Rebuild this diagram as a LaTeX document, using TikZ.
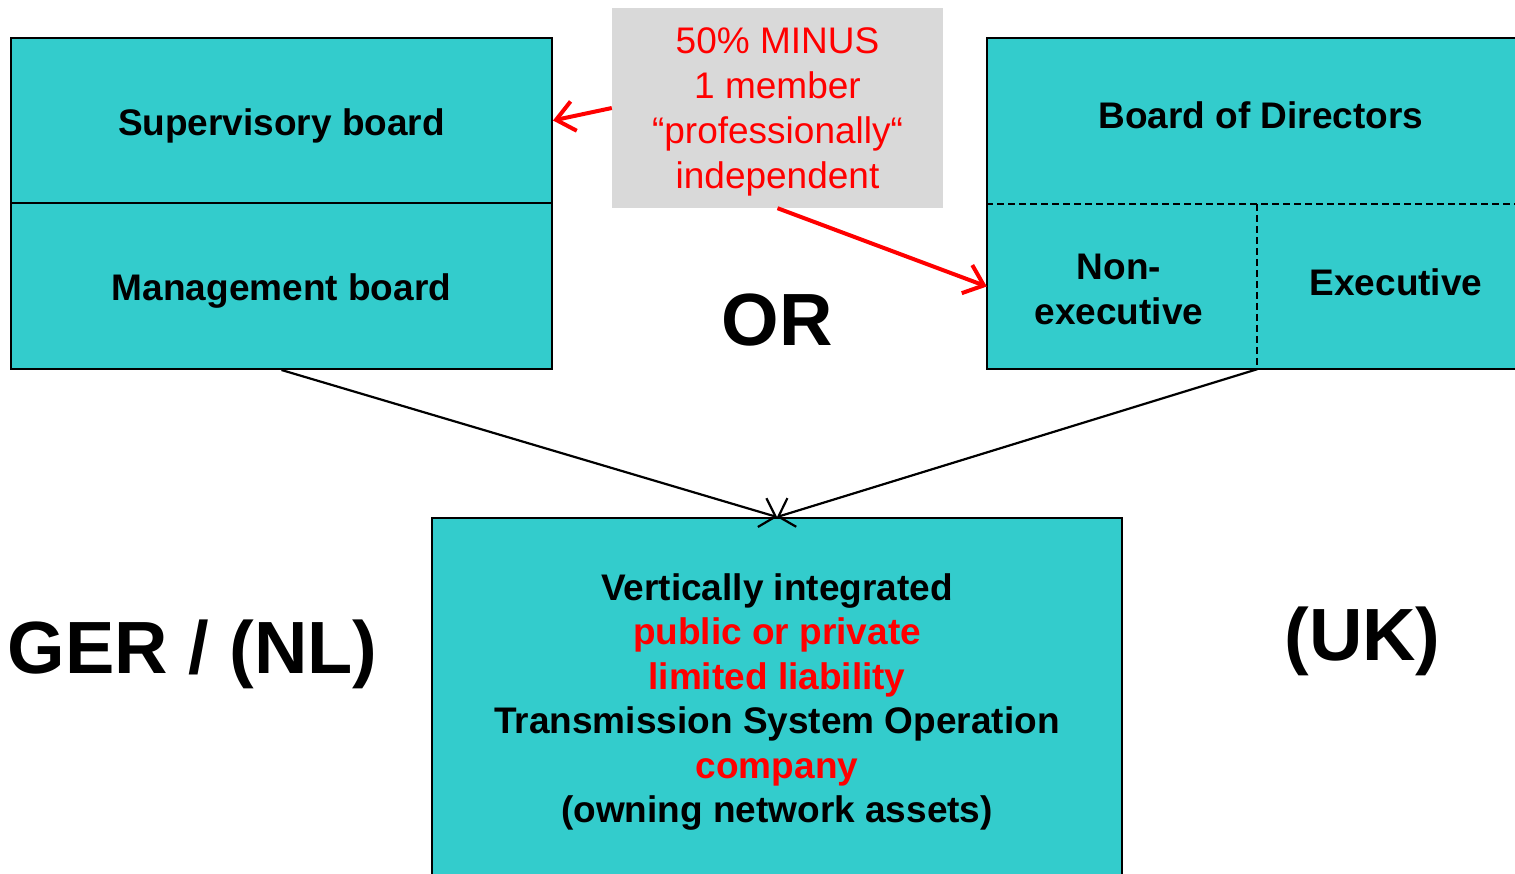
\documentclass[tikz,border=0pt]{standalone}
\usepackage{fontspec}
\setmainfont{Liberation Sans}
\usetikzlibrary{arrows.meta}
\definecolor{boxteal}{HTML}{33CCCC}
\definecolor{notegray}{HTML}{D9D9D9}
\definecolor{alertred}{HTML}{FF0000}
\begin{document}
\begin{tikzpicture}[x=1pt,y=-1pt,
  cell/.style={draw=black, line width=2pt, fill=boxteal, inner sep=0pt,
    font=\bfseries\fontsize{37}{44.5}\selectfont, align=center},
  oneline/.style={text height=35pt, text depth=6pt},
  celltext/.style={inner sep=0pt, font=\bfseries\fontsize{37}{44.5}\selectfont, align=center},
  note/.style={fill=notegray, inner sep=0pt},
  notetext/.style={inner sep=0pt, text=alertred,
    font=\fontsize{37}{45}\selectfont, align=center},
  biglabel/.style={inner sep=0pt, font=\bfseries\fontsize{74}{82}\selectfont},
  conn/.style={draw=black, line width=2.2pt, -{Straight Barb[length=14pt,width=30pt]}},
  redarrow/.style={draw=alertred, line width=4pt, -{Straight Barb[length=18pt,width=30pt]}},
  divider/.style={draw=black, line width=2pt, dash pattern=on 7pt off 4pt}]
\useasboundingbox (0,0) rectangle (1515,873);

% two-tier board
\node[cell, oneline, minimum width=541pt, minimum height=165pt] (sup) at (281.5,120.5) {Supervisory board};
\node[cell, oneline, minimum width=541pt, minimum height=166pt] (mgmt) at (281.5,286) {Management board};

% one-tier board
\node[cell, minimum width=548pt, minimum height=331pt] (board) at (1261,203.5) {};
\node[celltext] (bod) at (1261,115) {Board of Directors};
\node[minimum width=270pt, minimum height=165pt, inner sep=0pt] (nonexec) at (1122,286.5) {};
\node[celltext] (nonexectext) at (1119,289.5) {Non-\\executive};
\node[celltext] (exec) at (1396,282) {Executive};
\draw[divider] (board.west |- nonexec.north) -- (board.east |- nonexec.north);
\draw[divider] (nonexec.north east) -- (nonexec.south east);

% independence requirement
\node[note, minimum width=331pt, minimum height=200pt] (note) at (777.5,108) {};
\node[notetext] (notetext) at (777.5,112)
  {50\% MINUS\\1 member\\“professionally“\\independent};

% company
\node[cell, minimum width=690pt, minimum height=368pt] (tso) at (777,702)
  {Vertically integrated\\
   \textcolor{alertred}{public or private}\\
   \textcolor{alertred}{limited liability}\\
   Transmission System Operation\\
   \textcolor{alertred}{company}\\
   (owning network assets)};

% labels
\node[biglabel] (or) at (777,320) {OR};
\node[biglabel] (ger) at (192.5,654) {GER / (NL)};
\node[biglabel] (uk) at (1362.5,641) {(UK)};

% connectors
\draw[conn] (mgmt.south) -- (tso.north);
\draw[conn] (nonexec.south east) -- (tso.north);
\draw[redarrow] (note.west) -- (sup.east);
\draw[redarrow] (note.south) -- (nonexec.west);
\end{tikzpicture}
\end{document}
